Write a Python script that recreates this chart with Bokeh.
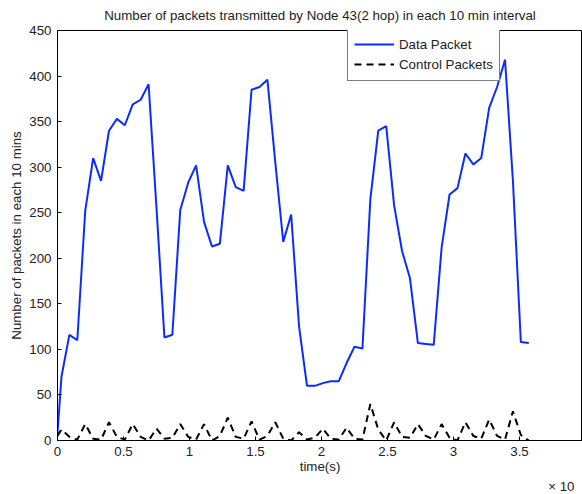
from bokeh.plotting import figure
from bokeh.models import Range1d, FixedTicker, Legend, LegendItem, Title
from bokeh.embed import file_html
from bokeh.resources import INLINE

# time in units of 10^4 s
time_x = [0.0, 0.03, 0.09, 0.15, 0.21, 0.27, 0.33, 0.39, 0.45, 0.51, 0.57,
          0.63, 0.69, 0.75, 0.81, 0.87, 0.93, 0.99, 1.05, 1.11, 1.17,
          1.23, 1.29, 1.35, 1.41, 1.47, 1.53, 1.59, 1.65, 1.71, 1.77,
          1.83, 1.89, 1.95, 2.01, 2.07, 2.13, 2.19, 2.25, 2.31, 2.37,
          2.43, 2.49, 2.55, 2.61, 2.67, 2.73, 2.79, 2.85, 2.91, 2.97,
          3.03, 3.09, 3.15, 3.21, 3.27, 3.33, 3.39, 3.45, 3.51, 3.57]

data_packets = [8, 70, 116, 110, 252, 310, 285, 340, 353, 346, 369,
                374, 391, 255, 113, 116, 253, 283, 302, 240, 213,
                216, 302, 278, 274, 385, 388, 396, 305, 218, 248,
                125, 60, 60, 63, 65, 65, 85, 103, 101, 265,
                340, 345, 258, 208, 178, 107, 106, 105, 212, 270,
                277, 315, 303, 310, 365, 388, 418, 285, 108, 107]

control_packets = [5, 12, 4, 1, 18, 2, 1, 20, 4, 1, 18,
                   4, 0, 13, 2, 3, 18, 4, 1, 18, 0,
                   5, 25, 4, 2, 21, 1, 5, 20, 2, 0,
                   9, 1, 3, 13, 2, 1, 14, 2, 1, 40,
                   12, 0, 20, 4, 3, 18, 5, 1, 18, 3,
                   0, 20, 5, 2, 23, 5, 1, 32, 6, 0]

x_ticks = [0, 0.5, 1, 1.5, 2, 2.5, 3, 3.5, 4]
x_tick_labels = ["0", "0.5", "1", "1.5", "2", "2.5", "3", "3.5", "4"]
y_ticks = [0, 50, 100, 150, 200, 250, 300, 350, 400, 450]

FONT = "Liberation Sans"
TXT = "#222222"
FS = "13.3px"

p = figure(width=582, height=494, output_backend="svg", toolbar_location=None,
           x_range=Range1d(0, 3.977), y_range=Range1d(0, 450),
           min_border_left=57, min_border_right=0, min_border_top=30, min_border_bottom=54)

p.title.text = "Number of packets transmitted by Node 43(2 hop) in each 10 min interval"
p.title.align = "center"
p.title.vertical_align = "top"
p.title.text_font = FONT
p.title.text_font_size = FS
p.title.text_font_style = "normal"
p.title.text_color = TXT
p.title.standoff = 11

p.grid.visible = False
p.outline_line_color = "black"
p.outline_line_width = 1
p.background_fill_color = "white"
p.border_fill_color = "white"

xa = p.xaxis[0]
xa.ticker = FixedTicker(ticks=x_ticks)
xa.major_label_overrides = {t: l for t, l in zip(x_ticks, x_tick_labels)}
xa.axis_label = "time(s)"
xa.axis_label_standoff = 0
xa.major_label_standoff = 6

ya = p.yaxis[0]
ya.ticker = FixedTicker(ticks=y_ticks)
ya.axis_label = "Number of packets in each 10 mins"
ya.axis_label_standoff = 2
ya.major_label_standoff = 6

for ax in [xa, ya]:
    ax.major_tick_in = 4
    ax.major_tick_out = 0
    ax.minor_tick_line_color = None
    ax.axis_line_color = "black"
    ax.major_tick_line_color = "black"
    ax.major_label_text_font = FONT
    ax.major_label_text_font_size = FS
    ax.major_label_text_color = TXT
    ax.axis_label_text_font = FONT
    ax.axis_label_text_font_size = FS
    ax.axis_label_text_font_style = "normal"
    ax.axis_label_text_color = TXT

r1 = p.line(time_x, data_packets, line_color="#0a2cff", line_width=2)
r2 = p.line(time_x, control_packets, line_color="black", line_width=2, line_dash="7 5")

legend = Legend(items=[LegendItem(label="Data Packet", renderers=[r1]),
                       LegendItem(label="Control Packets", renderers=[r2])],
                location=(290, 359), glyph_width=40, glyph_height=20, label_height=20,
                spacing=0, padding=6, margin=0, label_standoff=5,
                label_text_font=FONT, label_text_font_size=FS, label_text_color=TXT,
                border_line_color="black", border_line_width=1,
                background_fill_color="white", background_fill_alpha=1)
p.add_layout(legend)

p.add_layout(Title(text="× 10", align="right", offset=8, standoff=0,
                   text_font=FONT, text_font_size=FS, text_font_style="normal",
                   text_color=TXT), "below")

open("out.html", "w").write(file_html(p, INLINE))
